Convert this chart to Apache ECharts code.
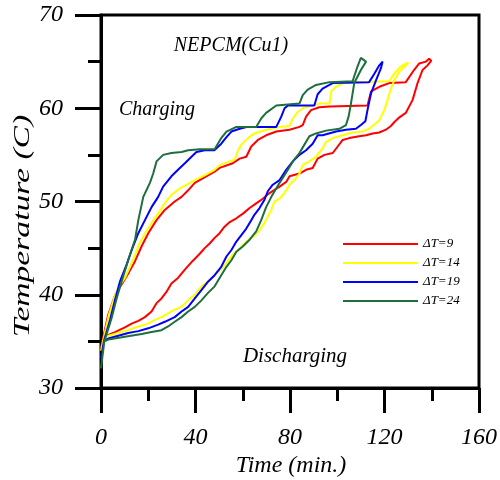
<!DOCTYPE html>
<html>
<head>
<meta charset="utf-8">
<script src="https://cdn.jsdelivr.net/npm/echarts@6/dist/echarts.min.js"></script>
<style>html,body{margin:0;padding:0;background:#fff;}#chart{width:500px;height:480px;}</style>
</head>
<body>
<div id="chart"></div>
<script>
// ---- data (time in min, temperature in C) ----
var seriesNames = ['ΔT=9', 'ΔT=14', 'ΔT=19', 'ΔT=24'];
var seriesColors = ['#ff0000', '#ffff00', '#0000ff', '#1e6e3e'];
var xTicks = [0, 40, 80, 120, 160];
var yTicks = [30, 40, 50, 60, 70];

var dt9Charging = [[0,34.3],[1,35.5],[3,37.8],[6,40.0],[9,41.2],[11.8,42.4],[14.4,43.6],[17.2,45.2],[20,46.6],[23.5,48.0],[27,49.1],[31.2,50.0],[34.1,50.5],[36.9,51.2],[39.7,52.0],[42.5,52.4],[45.3,52.8],[48.1,53.2],[50.2,53.6],[55.8,54.1],[58.7,54.6],[61.5,54.8],[63.6,55.9],[66.4,56.6],[69.9,57.1],[74.2,57.5],[79.8,57.7],[84,58.0],[85.4,58.2],[86.8,59.1],[88.9,59.8],[92.4,60.1],[96.7,60.2],[112.8,60.3],[114.3,61.8],[117.8,62.3],[122,62.7],[129,62.8],[132.5,64.1],[134.7,64.8],[137.5,65.0],[138.9,65.3],[139.8,65.1]];
var dt9Discharging = [[1,35.5],[3.1,35.7],[5.9,36.0],[10.1,36.5],[13,36.9],[15.8,37.2],[18.6,37.6],[21.4,38.2],[23.5,39.1],[25.6,39.6],[27.7,40.3],[29.8,41.2],[32.6,41.8],[35.5,42.7],[38.7,43.6],[41.8,44.4],[43.9,45.0],[46.0,45.5],[48.1,46.1],[50.2,46.6],[52.3,47.3],[54.5,47.8],[57.3,48.2],[60.1,48.7],[62.9,49.3],[65.7,49.8],[68.5,50.3],[71.3,50.9],[75.6,51.6],[78.4,52.1],[79.8,52.7],[84,53.0],[86.8,53.4],[89.6,53.6],[91.7,54.6],[94.6,55.0],[98.1,55.2],[100.2,55.9],[102.3,56.6],[105.1,56.8],[109.3,57.0],[112.2,57.1],[115,57.3],[117.8,57.4],[120.6,57.7],[122.7,58.1],[124.1,58.5],[126.2,59.0],[129,59.5],[131.9,60.9],[134,62.7],[136.1,64.1],[138.2,64.6],[139.8,65.1]];

var dt14Charging = [[0,34.0],[1.1,35.3],[3.3,37.8],[6,40.0],[8.5,41.2],[10.1,41.8],[13,43.4],[15.8,45.2],[18.6,46.6],[21.4,47.7],[24.2,48.7],[27,49.8],[29.8,50.7],[33.3,51.4],[36.9,51.9],[39.7,52.3],[43.9,52.8],[48.1,53.4],[50.2,53.9],[54.5,54.3],[56.6,54.5],[58.0,55.5],[59.4,56.1],[62.2,56.8],[65,57.3],[69.9,57.7],[75.6,58.0],[79.8,58.1],[81.2,58.9],[83.3,59.6],[85.4,60.0],[88.2,60.2],[92.4,60.5],[96.7,60.5],[97.4,61.8],[99.5,62.3],[102.3,62.7],[106.5,62.8],[122,62.9],[124.1,63.7],[126.2,64.3],[128.3,64.7],[130.1,64.9]];
var dt14Discharging = [[1.1,35.3],[3.1,35.6],[7.3,35.9],[11.5,36.2],[15.8,36.6],[20,36.9],[22.8,37.3],[25.6,37.6],[28.4,38.0],[31.2,38.4],[34.1,38.7],[36.9,39.4],[39.7,40.0],[42.5,40.9],[44.6,41.3],[47.4,41.9],[50.2,42.6],[53.1,43.4],[55.8,44.3],[58.7,45.0],[61.5,45.7],[64.3,46.2],[67.1,46.9],[69.2,47.7],[70.6,48.4],[72.1,49.1],[73.4,50.0],[75.6,50.3],[77.7,50.9],[79.8,51.8],[82.6,52.5],[84,53.0],[85.4,53.9],[88.2,54.3],[91,54.8],[93.8,55.7],[95.3,56.4],[98.1,56.8],[102.3,57.1],[106.5,57.4],[110.7,57.5],[113.5,57.8],[116.4,58.4],[117.8,58.7],[119.9,59.8],[121.3,60.9],[122.7,62.1],[124.1,63.0],[126.2,63.9],[128.7,64.5],[130.1,64.9]];

var dt19Charging = [[0,33.2],[1.3,35.1],[3.8,37.3],[5.9,39.4],[8.0,41.4],[10.8,43.2],[13,44.8],[15.8,46.6],[18.6,48.0],[21.4,49.4],[24.2,50.5],[26.3,51.6],[29.8,52.7],[32.6,53.4],[35.5,54.1],[38.3,54.8],[40.4,55.3],[43.9,55.5],[48,55.5],[50.9,56.2],[53.1,56.9],[55.2,57.5],[58.7,57.8],[62,58.0],[74.2,58.0],[76.3,59.1],[77.7,60.0],[79.1,60.3],[90.3,60.3],[91.7,61.5],[93.8,62.1],[96.7,62.5],[98.1,62.7],[113.5,62.8],[115.7,63.7],[117.8,64.6],[119.2,65.0],[119.9,64.9]];
var dt19Discharging = [[1.3,35.1],[3.1,35.3],[7.3,35.6],[11.5,35.9],[15.8,36.1],[20,36.4],[24.2,36.8],[27,37.1],[31.2,37.6],[34.1,38.2],[36.9,38.7],[39.7,39.6],[42.5,40.5],[45.3,41.4],[48.1,42.1],[50.9,43.0],[53.1,44.1],[55.2,44.8],[57.3,45.7],[59.4,46.4],[61.5,47.1],[63.6,48.0],[65,48.6],[67.1,49.3],[69.2,50.2],[70.6,51.1],[72.7,51.8],[75.6,52.3],[78.4,53.4],[81.2,54.3],[84,55.0],[86.8,55.5],[89.6,56.2],[91.7,57.1],[93.8,57.1],[99.5,57.5],[103.7,57.7],[107.9,57.8],[110,58.2],[111.9,58.6],[112.8,59.8],[114.3,61.6],[116.4,63.0],[118.5,64.3],[119.9,64.9]];

var dt24Charging = [[0,32.1],[1.4,35.0],[4.5,37.5],[6.5,39.5],[8.7,41.4],[11.5,43.7],[14.4,45.9],[15.8,48.0],[17.9,50.5],[20.7,52.0],[22.1,53.0],[23.5,54.3],[26.3,55.0],[29.8,55.2],[34.1,55.3],[36.9,55.5],[41.8,55.6],[48.1,55.6],[50.9,56.8],[53.1,57.5],[57.3,58.0],[65.7,58.0],[67.8,58.9],[69.9,59.5],[74.2,60.3],[84,60.5],[85.4,61.4],[87.5,62.0],[91,62.5],[96.7,62.8],[106.5,62.9],[108.6,64.5],[110,65.4],[112.2,65.0]];
var dt24Discharging = [[1.4,35.0],[3.1,35.2],[10.1,35.5],[17.2,35.8],[21.4,36.0],[25.6,36.2],[28.4,36.6],[31.2,37.1],[34.1,37.6],[36.9,38.2],[39.7,38.7],[42.5,39.4],[45.3,40.2],[48.1,40.9],[50.9,42.1],[53.1,43.0],[55.2,43.7],[57.3,44.6],[60.1,45.2],[62.9,45.9],[65.7,46.8],[67.8,48.0],[69.9,49.4],[72.1,50.5],[75.6,52.0],[79.1,53.4],[81.5,54.4],[84,55.2],[86.1,56.1],[88.2,57.0],[91,57.3],[95.3,57.6],[100.9,57.8],[103.7,58.2],[104.8,59.1],[105.8,60.5],[107.2,62.7],[110,64.1],[112.2,65.0]];

var chargingSets = [dt9Charging, dt14Charging, dt19Charging, dt24Charging];
var dischargingSets = [dt9Discharging, dt14Discharging, dt19Discharging, dt24Discharging];

// ---- chart ----
var FONT = '"Liberation Serif", "Times New Roman", serif';
var chart = echarts.init(document.getElementById('chart'), null, {renderer: 'canvas'});

var series = seriesNames.map(function (name, i) {
  // one closed path: charging up to the top, discharging back down
  var loop = chargingSets[i].concat(dischargingSets[i].slice().reverse());
  return {
    name: name,
    type: 'line',
    data: loop,
    symbol: 'none',
    showSymbol: false,
    smooth: false,
    clip: true,
    color: seriesColors[i],
    lineStyle: {width: 2, color: seriesColors[i]},
    z: 3 + i,
    silent: true
  };
});

var legends = seriesNames.map(function (name, i) {
  return {
    data: [name],
    left: 343,
    top: 237 + i * 19,
    orient: 'vertical',
    padding: 0,
    itemWidth: 75,
    itemHeight: 2,
    itemTextGap: 7,
    icon: 'rect',
    selectedMode: false,
    textStyle: {fontSize: 13, fontStyle: 'italic', fontFamily: FONT, color: '#000', lineHeight: 14}
  };
});

function axisCommon(min, max, interval, tickLen) {
  return {
    type: 'value',
    min: min,
    max: max,
    interval: interval,
    axisLine: {show: true, onZero: false, lineStyle: {color: '#000', width: 3}},
    axisTick: {show: true, inside: false, length: tickLen, lineStyle: {color: '#000', width: 3}},
    minorTick: {show: true, splitNumber: 2, length: Math.round(tickLen / 2), lineStyle: {color: '#000', width: 3}},
    splitLine: {show: false},
    minorSplitLine: {show: false},
    axisLabel: {
      show: true, margin: 38, fontSize: 24, fontStyle: 'italic', fontFamily: FONT, color: '#000',
      formatter: function (v) { return String(v); }
    }
  };
}

var option = {
  animation: false,
  backgroundColor: '#fff',
  grid: {left: 101, top: 15, width: 379, height: 373, show: true, borderColor: '#000', borderWidth: 3, backgroundColor: 'transparent', containLabel: false},
  xAxis: axisCommon(xTicks[0], xTicks[xTicks.length - 1], xTicks[1] - xTicks[0], 25),
  yAxis: axisCommon(yTicks[0], yTicks[yTicks.length - 1], yTicks[1] - yTicks[0], 26),
  legend: legends,
  series: series,
  graphic: [
    {type: 'text', x: 231, y: 46, style: {text: 'NEPCM(Cu1)', font: 'italic 20px ' + FONT, fill: '#000', textAlign: 'center', textVerticalAlign: 'middle'}},
    {type: 'text', x: 157, y: 110, style: {text: 'Charging', font: 'italic 20px ' + FONT, fill: '#000', textAlign: 'center', textVerticalAlign: 'middle'}},
    {type: 'text', x: 295, y: 356, style: {text: 'Discharging', font: 'italic 21px ' + FONT, fill: '#000', textAlign: 'center', textVerticalAlign: 'middle'}},
    {type: 'text', x: 291, y: 466, style: {text: 'Time (min.)', font: 'italic 24px ' + FONT, fill: '#000', textAlign: 'center', textVerticalAlign: 'middle'}},
    {type: 'text', x: 23, y: 226, rotation: Math.PI / 2, scaleX: 1.4, style: {text: 'Temperature (C)', font: 'italic 24px ' + FONT, fill: '#000', textAlign: 'center', textVerticalAlign: 'middle'}}
  ]
};
chart.setOption(option);
</script>
</body>
</html>
